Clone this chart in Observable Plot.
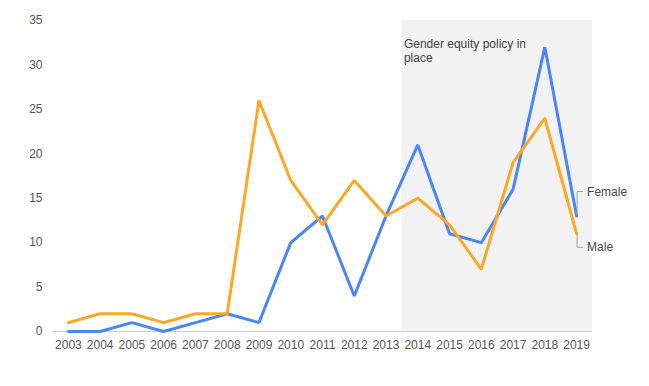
<!DOCTYPE html>
<html>
<head>
<meta charset="utf-8">
<script src="https://cdn.jsdelivr.net/npm/d3@7"></script>
<script src="https://cdn.jsdelivr.net/npm/@observablehq/plot@0.6"></script>
<style>
  body { margin: 0; background: #fff; }
  #chart { font-family: "Liberation Sans", Arial, sans-serif; }
</style>
</head>
<body>
<div id="chart"></div>
<script>
const years = [2003,2004,2005,2006,2007,2008,2009,2010,2011,2012,2013,2014,2015,2016,2017,2018,2019];
const female = [0,0,1,0,1,2,1,10,13,4,13,21,11,10,16,32,13];
const male   = [1,2,2,1,2,2,26,17,12,17,13,15,12,7,19,24,11];
const seriesNames = ["Female", "Male"];
const seriesColors = ["#4a86f7", "#ffa726"];
const policyStart = 2013.5;
const policyEnd = 2019.5;
const policyLabel = ["Gender equity policy in", "place"];
const yTicks = [0,5,10,15,20,25,30,35];

const rows = [];
years.forEach((yr, i) => {
  rows.push({year: yr, value: female[i], series: "Female"});
  rows.push({year: yr, value: male[i], series: "Male"});
});

const chart = Plot.plot({
  width: 649,
  height: 386,
  marginLeft: 52,
  marginRight: 57,
  marginTop: 20,
  marginBottom: 55,
  style: {fontFamily: "Liberation Sans, Arial, sans-serif", fontSize: "12px", color: "#55555f", background: "#fff"},
  x: {domain: [2002.5, 2019.5], ticks: years, tickFormat: "d", tickSize: 0, tickPadding: 9, label: null},
  y: {domain: [0, 35], ticks: yTicks, tickSize: 0, tickPadding: 10, label: null},
  color: {domain: seriesNames, range: seriesColors},
  marks: [
    Plot.rectY([{x1: policyStart, x2: policyEnd}], {x1: "x1", x2: "x2", y1: 0, y2: 35, fill: "#f2f2f2"}),
    Plot.ruleY([0], {stroke: "#cccccc"}),
    Plot.line(rows, {x: "year", y: "value", z: "series", stroke: "series", strokeWidth: 3, strokeLinejoin: "miter"}),
    Plot.text([policyLabel.join("\n")], {x: policyStart, y: 35, text: d => d, textAnchor: "start", lineAnchor: "top", dx: 2, dy: 18, fill: "#444", fontSize: 12, lineHeight: 1.15})
  ]
});
document.getElementById("chart").appendChild(chart);

// series end labels with leader lines
const xs = chart.scale("x"), ys = chart.scale("y");
const svg = d3.select(chart);
const lastIdx = years.length - 1;
const ends = [
  {name: "Female", v: female[lastIdx], off: -24},
  {name: "Male", v: male[lastIdx], off: 14}
];
ends.forEach(e => {
  const x0 = xs.apply(years[lastIdx]) + 1;
  const y0 = ys.apply(e.v);
  const y1 = y0 + e.off;
  svg.append("path")
    .attr("d", `M${x0},${y0 + (e.off < 0 ? -1 : 1)}V${y1}H${x0 + 6}`)
    .attr("fill", "none").attr("stroke", "#a0a0a8").attr("stroke-width", 1);
  svg.append("text")
    .attr("x", x0 + 10).attr("y", y1).attr("dy", "0.35em")
    .attr("text-anchor", "start")
    .attr("fill", "#4a4a55").attr("font-size", 12)
    .attr("font-family", "Liberation Sans, Arial, sans-serif")
    .text(e.name);
});
</script>
</body>
</html>
